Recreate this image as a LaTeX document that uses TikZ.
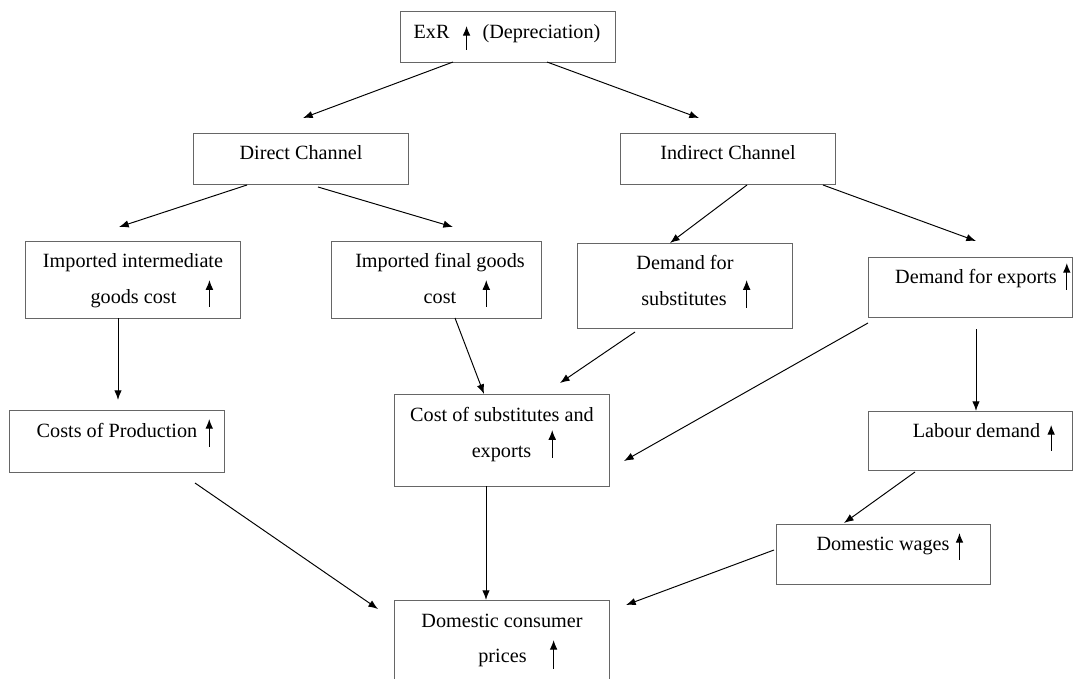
\documentclass[tikz,border=0pt]{standalone}
\usepackage{fontspec}
\setmainfont{Liberation Serif}
\usetikzlibrary{arrows.meta}

\newcommand{\uparr}[2]{\makebox[0pt]{\tikz[baseline=0pt]\draw[line width=0.6pt,-{Latex[length=5.5pt,width=4.4pt]}] (0pt,{-#2*0.567pt}) -- (0pt,{#1*0.567pt});}}

\begin{document}
\begin{tikzpicture}[->,>={Latex[length=5.5pt,width=4.2pt]},line width=0.55pt,x=0.02cm,y=-0.02cm]
    \tikzstyle{blk}=[draw=black!60,line width=0.8pt,rectangle,inner sep=0pt,anchor=north west]
    \tikzstyle{txt}=[anchor=base,inner sep=0pt,font=\rmfamily\fontsize{11.5}{14}\selectfont]
    \useasboundingbox (0,0) rectangle (1073,679);
    \clip (0,0) rectangle (1073,679);
    \node[blk,minimum width=4.3cm,minimum height=1.02cm]  (exr)  at (400,11)  {};
    \node[blk,minimum width=4.3cm,minimum height=1.02cm]  (dir)  at (193,133) {};
    \node[blk,minimum width=4.3cm,minimum height=1.02cm]  (ind)  at (620,133) {};
    \node[blk,minimum width=4.3cm,minimum height=1.54cm]  (iig)  at (25,241)  {};
    \node[blk,minimum width=4.2cm,minimum height=1.54cm]  (ifg)  at (331,241) {};
    \node[blk,minimum width=4.3cm,minimum height=1.7cm]   (dsub) at (577,243) {};
    \node[blk,minimum width=4.08cm,minimum height=1.2cm]  (dexp) at (868,257) {};
    \node[blk,minimum width=4.3cm,minimum height=1.24cm]  (cop)  at (9,410)   {};
    \node[blk,minimum width=4.3cm,minimum height=1.84cm]  (cse)  at (394,394) {};
    \node[blk,minimum width=4.08cm,minimum height=1.18cm] (lab)  at (868,411) {};
    \node[blk,minimum width=4.28cm,minimum height=1.2cm]  (wag)  at (776,524) {};
    \node[blk,minimum width=4.3cm,minimum height=2cm]     (dcp)  at (394,600) {};
    \node[txt] (exr-t)   at (507,39)  {ExR\hspace{0.34cm}\uparr{13}{11}\hspace{0.32cm}(Depreciation)};
    \node[txt] (dir-t)   at (301,160) {Direct Channel};
    \node[txt] (ind-t)   at (728,160) {Indirect Channel};
    \node[txt] (iig-t1)  at (133,268) {Imported intermediate};
    \node[txt] (iig-t2)  at (150,303) {goods cost\hspace{0.66cm}\uparr{23}{4}};
    \node[txt] (ifg-t1)  at (440,268) {Imported final goods};
    \node[txt] (ifg-t2)  at (455,303) {cost\hspace{0.6cm}\uparr{23}{4}};
    \node[txt] (dsub-t1) at (685,270) {Demand for};
    \node[txt] (dsub-t2) at (694,305) {substitutes\hspace{0.4cm}\uparr{25}{3}};
    \node[txt] (dexp-t)  at (981,283) {Demand for exports\hspace{0.2cm}\uparr{20}{7}};
    \node[txt] (cop-t)   at (123,437) {Costs of Production\hspace{0.24cm}\uparr{18}{10}};
    \node[txt] (cse-t1)  at (502,421) {Cost of substitutes and};
    \node[txt] (cse-t2)  at (512,457) {exports\hspace{0.42cm}\uparr{27}{1}};
    \node[txt] (lab-t)   at (982,437) {Labour demand\hspace{0.22cm}\uparr{12}{14}};
    \node[txt] (wag-t)   at (888,550) {Domestic wages\hspace{0.2cm}\uparr{17}{10}};
    \node[txt] (dcp-t1)  at (502,627) {Domestic consumer};
    \node[txt] (dcp-t2)  at (516,662) {prices\hspace{0.54cm}\uparr{22}{7}};
    \draw ([shift={(53,51)}]exr.north west)   -- ([shift={(110,-15)}]dir.north west);
    \draw ([shift={(147,51)}]exr.north west)  -- ([shift={(79,-15)}]ind.north west);
    \draw ([shift={(54,52)}]dir.north west)   -- ([shift={(94,-14)}]iig.north west);
    \draw ([shift={(125,54)}]dir.north west)  -- ([shift={(122,-14)}]ifg.north west);
    \draw ([shift={(127,52)}]ind.north west)  -- ([shift={(93,0)}]dsub.north west);
    \draw ([shift={(203,52)}]ind.north west)  -- ([shift={(108,-16)}]dexp.north west);
    \draw ([shift={(93,77)}]iig.north west)   -- ([shift={(109,-10)}]cop.north west);
    \draw ([shift={(124,77)}]ifg.north west)  -- ([shift={(90,0)}]cse.north west);
    \draw ([shift={(58,89)}]dsub.north west)  -- ([shift={(166,-11)}]cse.north west);
    \draw ([shift={(0,66)}]dexp.north west)   -- ([shift={(230,67)}]cse.north west);
    \draw ([shift={(108,72)}]dexp.north west) -- ([shift={(108,0)}]lab.north west);
    \draw ([shift={(186,73)}]cop.north west)  -- ([shift={(-16,9)}]dcp.north west);
    \draw ([shift={(92,92)}]cse.north west)   -- ([shift={(92,0)}]dcp.north west);
    \draw ([shift={(47,61)}]lab.north west)   -- ([shift={(68,-1)}]wag.north west);
    \draw ([shift={(-2,26)}]wag.north west)   -- ([shift={(232,5)}]dcp.north west);
\end{tikzpicture}
\end{document}
